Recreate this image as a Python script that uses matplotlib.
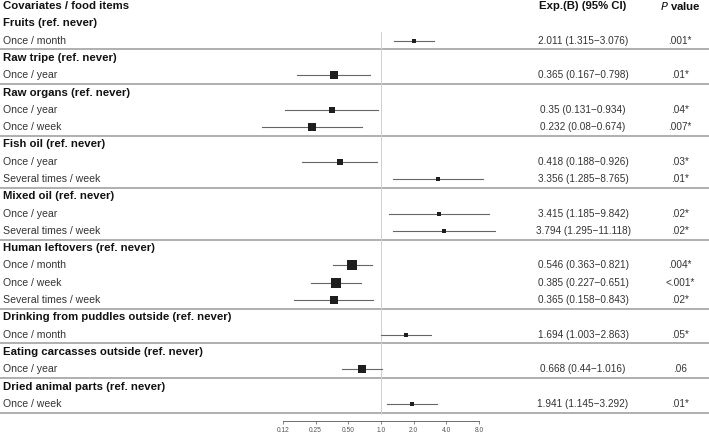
import numpy as np
import matplotlib.pyplot as plt

# Forest plot: covariates / food items, odds ratios with 95% CI
groups = ["Fruits (ref. never)", "Raw tripe (ref. never)", "Raw organs (ref. never)",
          "Fish oil (ref. never)", "Mixed oil (ref. never)", "Human leftovers (ref. never)",
          "Drinking from puddles outside (ref. never)",
          "Eating carcasses outside (ref. never)", "Dried animal parts (ref. never)"]
levels = [["Once / month"],
          ["Once / year"],
          ["Once / year", "Once / week"],
          ["Once / year", "Several times / week"],
          ["Once / year", "Several times / week"],
          ["Once / month", "Once / week", "Several times / week"],
          ["Once / month"],
          ["Once / year"],
          ["Once / week"]]
est = [2.011, 0.365, 0.35, 0.232, 0.418, 3.356, 3.415, 3.794,
       0.546, 0.385, 0.365, 1.694, 0.668, 1.941]
ci_lo = [1.315, 0.167, 0.131, 0.08, 0.188, 1.285, 1.185, 1.295,
         0.363, 0.227, 0.158, 1.003, 0.44, 1.145]
ci_hi = [3.076, 0.798, 0.934, 0.674, 0.926, 8.765, 9.842, 11.118,
         0.821, 0.651, 0.843, 2.863, 1.016, 3.292]
pvals = [".001*", ".01*", ".04*", ".007*", ".03*", ".01*", ".02*", ".02*",
         ".004*", "<.001*", ".02*", ".05*", ".06", ".01*"]
ticks = [0.125, 0.25, 0.5, 1, 2, 4, 8]
tick_labels = ["0.12", "0.25", "0.50", "1.0", "2.0", "4.0", "8.0"]

# box side in pixels (study weight)
box_px = [4.5, 7.5, 6.5, 8, 6.5, 3.5, 3.5, 3.5, 10, 10.5, 7.5, 4.5, 8.5, 4.5]

plt.rcParams['font.family'] = ['Liberation Sans', 'DejaVu Sans']

W, H = 709, 434
row_px, top_px = 17.3, 6.0
fig = plt.figure(figsize=(W / 100, H / 100), dpi=100)

ylim = ((H - top_px) / row_px, -top_px / row_px)

bg = fig.add_axes([0, 0, 1, 1])
bg.set_xlim(0, W)
bg.set_ylim(*ylim)
bg.axis('off')

# forest axes, log2 scale placed so 0.125 -> 283px and 8 -> 479px
lo_px, hi_px = 240, 540
ppd = (479 - 283) / 6
xmin = 0.125 * 2 ** (-(283 - lo_px) / ppd)
xmax = 8 * 2 ** ((hi_px - 479) / ppd)
fa = fig.add_axes([lo_px / W, 0, (hi_px - lo_px) / W, 1])
fa.patch.set_alpha(0)
fa.set_xscale('log', base=2)
fa.set_xlim(xmin, xmax)
fa.set_ylim(*ylim)

txt_col = '#111111'
col_ci, col_p = 583, 680
fs_b = 8.2   # bold headings
fs_r = 7.6   # row labels
fs_v = 7.2   # value columns

bg.text(3, 0, "Covariates / food items", fontsize=fs_b, fontweight='bold',
        va='center', ha='left', color=txt_col)
bg.text(col_ci, 0, "Exp.(B) (95% CI)", fontsize=fs_b, fontweight='bold',
        va='center', ha='center', color=txt_col)
bg.text(col_p, 0, r"$\bf{\it{P}}$ value", fontsize=fs_b, fontweight='bold',
        va='center', ha='center', color=txt_col)

row = 1
k = 0
seps = []
item_rows = []
for g, levs in zip(groups, levels):
    bg.text(3, row, g, fontsize=fs_b, fontweight='bold', va='center',
            ha='left', color=txt_col)
    row += 1
    for lev in levs:
        bg.text(3, row, lev, fontsize=fs_r, va='center', ha='left',
                color='#333333')
        bg.text(col_ci, row, f"{est[k]:g} ({ci_lo[k]:g}\u2212{ci_hi[k]:g})",
                fontsize=fs_v, va='center', ha='center', color='#333333')
        bg.text(col_p, row, pvals[k], fontsize=fs_v, va='center',
                ha='center', color='#333333')
        item_rows.append(row)
        row += 1
        k += 1
    seps.append(row - 0.5)

for s in seps:
    bg.axhline(s, color='#9a9a9a', lw=1.1, zorder=1)

fa.plot([1, 1], [1.5, seps[-1] + 0.1], color='#d0d0d0', lw=0.7, zorder=1)

for r, e, l, h, b in zip(item_rows, est, ci_lo, ci_hi, box_px):
    fa.plot([l, h], [r, r], color='#666666', lw=0.8, zorder=2)
    fa.plot([e], [r], marker='s', markersize=b * 0.72, color='#1e1e1e',
            markeredgewidth=0, zorder=3)

axis_row = (421 - top_px) / row_px
for side in ['top', 'right', 'left']:
    fa.spines[side].set_visible(False)
fa.spines['bottom'].set_position(('data', axis_row))
fa.spines['bottom'].set_bounds(0.125, 8)
fa.spines['bottom'].set_color('#555555')
fa.spines['bottom'].set_linewidth(0.6)
fa.set_yticks([])
fa.set_xticks(ticks)
fa.set_xticklabels(tick_labels)
fa.minorticks_off()
fa.tick_params(axis='x', direction='out', length=2.5, width=0.5, pad=1.5,
               labelsize=4.8, colors='#555555')

fig.savefig('out.png', dpi=100)
